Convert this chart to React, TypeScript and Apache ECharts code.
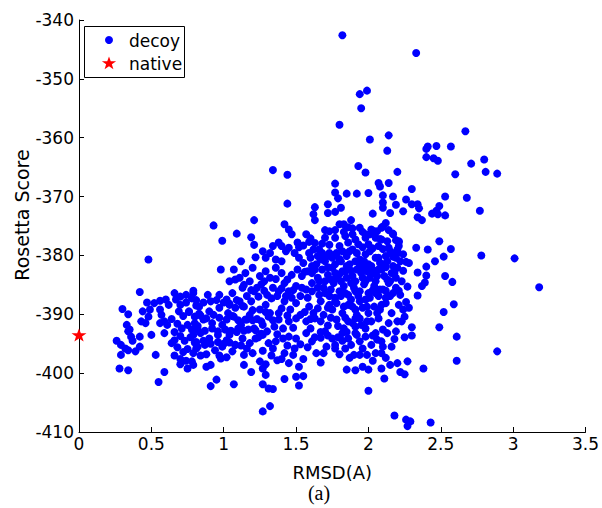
import React, { useEffect, useRef } from "react";
import * as echarts from "echarts";

// ---- data (RMSD, Rosetta score) ----
const leftCluster: [number, number][] = [
  [0.48,-380.7],[0.42,-386.2],[0.66,-386.4],[0.30,-389.1],[0.34,-390.0],[0.47,-388.0],[0.52,-388.1],[0.56,-387.7],[0.60,-387.5],[0.62,-388.4],
  [0.44,-389.5],[0.49,-389.2],[0.48,-390.4],[0.43,-391.2],[0.46,-391.5],[0.56,-389.2],[0.57,-390.1],[0.59,-391.2],[0.61,-391.8],[0.56,-391.5],
  [0.33,-391.8],[0.34,-392.9],[0.36,-393.8],[0.37,-394.5],[0.35,-392.6],[0.42,-393.8],[0.50,-393.5],[0.59,-393.2],[0.26,-394.5],[0.29,-395.2],
  [0.32,-395.8],[0.34,-396.1],[0.39,-396.3],[0.42,-395.5],[0.29,-396.9],[0.53,-396.9],[0.64,-394.9],[0.66,-394.4],[0.28,-399.2],[0.34,-399.5],
  [0.59,-399.8],[0.55,-401.5],[0.70,-398.5],[0.75,-399.2],[0.67,-387.5],[0.70,-388.4],[0.74,-386.7],[0.79,-386.0],
  [0.70,-387.0],[0.74,-388.0],[0.78,-387.3],[0.81,-388.5],[0.69,-389.5],[0.72,-390.3],[0.76,-389.6],[0.80,-390.4],[0.83,-389.9],[0.68,-391.6],
  [0.71,-392.4],[0.75,-391.8],[0.78,-392.6],[0.82,-392.0],[0.70,-393.7],[0.73,-394.5],[0.77,-393.9],[0.80,-394.8],[0.68,-395.6],[0.72,-396.4],
  [0.75,-395.9],[0.79,-396.6],[0.82,-395.5],[0.70,-397.6],[0.74,-397.9],[0.78,-398.0],[0.66,-393.0],[0.64,-390.8],[0.66,-397.0],
  [0.81,-387.6],[0.86,-388.0],[0.91,-387.8],[0.95,-387.6],[1.00,-388.0],[1.04,-388.2],[1.09,-387.6],[1.13,-388.6],
  [0.84,-390.2],[0.88,-390.7],[0.93,-390.1],[0.97,-390.6],[1.02,-390.9],[1.06,-390.3],[1.10,-391.0],[1.16,-390.9],[1.20,-391.0],
  [0.82,-392.6],[0.87,-392.8],[0.92,-392.4],[0.96,-392.9],[1.01,-392.6],[1.05,-392.8],[1.09,-393.0],[1.14,-392.8],[1.22,-392.7],[1.26,-393.3],
  [0.81,-394.7],[0.86,-394.5],[0.91,-395.0],[0.96,-394.7],[1.00,-395.0],[1.04,-394.8],[1.08,-395.2],[1.12,-395.3],
  [0.84,-397.0],[0.88,-396.8],[0.97,-397.0],[1.02,-397.3],
  [0.99,-377.5],[0.98,-382.4],[0.79,-386.4],[0.89,-386.7],[0.97,-386.7],[1.02,-387.5],[0.76,-389.5],[0.83,-388.7],[0.90,-389.5],[0.97,-388.9],
  [1.03,-389.8],[0.80,-391.5],[0.86,-390.9],[0.92,-391.5],[0.99,-391.8],[0.79,-393.5],[0.84,-393.2],[0.90,-394.1],[0.96,-393.5],[1.02,-394.4],
  [0.81,-395.8],[0.87,-395.2],[0.94,-396.1],[0.99,-395.5],[0.79,-398.6],[0.88,-398.9],[0.91,-398.6],[0.98,-397.5],[0.91,-402.2],[0.95,-401.1],
  [0.93,-374.9],[1.09,-376.3],[1.34,-365.5],[1.44,-366.3]
];

const mainCluster: [number, number][] = [
  [1.77,-367.8],[1.77,-369.3],[1.85,-369.5],[1.92,-369.5],[2.00,-369.4],[1.79,-370.3],
  [1.44,-371.2],[1.63,-371.8],[1.72,-371.3],[1.81,-371.9],[1.77,-372.6],[1.72,-372.8],[1.62,-373.0],
  [1.21,-374.0],[1.63,-374.0],[1.42,-374.7],[1.45,-375.6],[1.47,-376.4],[1.80,-374.7],[1.83,-374.7],[1.88,-374.0],[1.73,-375.9],[1.77,-375.7],
  [1.83,-376.0],[1.89,-375.4],[1.94,-375.3],[2.02,-375.6],[2.01,-376.4],[2.09,-375.3],[2.17,-376.3],[1.89,-376.4],[1.98,-376.4],
  [1.19,-376.9],[1.57,-376.4],[1.60,-377.1],[1.59,-377.7],[1.52,-378.6],[1.70,-377.0],[1.77,-377.0],[1.84,-376.7],[1.91,-377.3],[1.98,-377.0],
  [2.05,-377.0],[2.09,-377.3],[2.19,-377.4],[2.21,-377.7],[1.21,-378.2],[1.27,-379.3],[1.34,-378.4],[1.38,-377.8],[1.40,-378.4],[1.45,-378.7],
  [1.51,-377.8],[1.66,-379.0],[1.73,-378.2],[1.80,-378.4],[1.86,-377.8],[1.93,-378.1],[2.00,-378.1],[2.07,-378.4],[2.14,-378.7],[2.21,-378.4],
  [1.22,-380.3],[1.29,-380.4],[1.32,-379.6],[1.36,-380.7],[1.40,-381.0],[1.43,-379.3],[1.49,-379.6],[1.52,-380.4],[1.55,-381.3],[1.59,-379.6],
  [1.62,-379.0],[1.65,-380.1],[1.68,-379.6],[1.70,-381.0],[1.75,-380.4],[1.78,-379.6],[1.82,-379.3],[1.85,-380.1],[1.89,-379.0],[1.92,-379.6],
  [1.94,-380.7],[1.98,-379.8],[2.01,-379.3],[2.05,-380.4],[2.08,-381.3],[2.12,-380.1],[2.15,-379.3],[2.19,-380.4],[2.22,-381.0],[1.12,-381.0],
  [1.07,-382.4],[1.15,-383.0],[1.20,-382.1],[1.25,-383.5],[1.29,-382.7],[1.32,-383.8],[1.36,-382.1],[1.40,-383.0],[1.44,-384.1],[1.47,-383.3],
  [1.51,-382.4],[1.54,-383.5],[1.58,-382.7],[1.61,-381.8],[1.65,-383.8],[1.68,-382.4],[1.72,-383.3],[1.75,-382.1],[1.78,-383.8],[1.82,-382.7],
  [1.85,-381.8],[1.89,-383.5],[1.92,-382.4],[1.96,-383.8],[1.99,-382.7],[2.02,-381.8],[2.06,-383.5],[2.09,-382.4],[2.13,-384.1],[2.16,-383.0],
  [2.20,-382.1],[1.08,-384.1],[1.04,-384.4],
  [1.06,-386.4],[1.13,-385.5],[1.16,-386.9],[1.21,-386.1],[1.26,-384.9],[1.30,-386.7],[1.34,-385.5],[1.37,-386.9],[1.42,-384.7],[1.45,-386.1],
  [1.50,-385.2],[1.53,-386.9],[1.57,-385.8],[1.61,-384.7],[1.66,-386.7],[1.69,-385.5],[1.73,-386.9],[1.76,-384.7],[1.80,-386.1],[1.83,-385.2],
  [1.86,-386.7],[1.90,-385.5],[1.93,-386.9],[1.97,-384.9],[2.00,-386.4],[2.04,-385.2],[2.07,-386.9],[2.10,-385.8],[2.14,-384.7],[2.17,-386.4],
  [2.22,-386.7],[2.34,-386.8],
  [1.04,-388.4],[1.08,-388.9],[1.14,-388.7],[1.19,-387.8],[1.25,-389.2],[1.29,-388.4],[1.32,-389.8],[1.38,-389.8],[1.42,-387.8],[1.46,-389.2],
  [1.50,-388.1],[1.59,-388.7],[1.62,-389.8],[1.67,-387.8],[1.75,-389.2],[1.78,-388.1],[1.82,-389.8],[1.86,-388.4],[1.91,-389.2],[1.94,-387.8],
  [2.00,-389.8],[2.04,-388.7],[2.08,-389.2],[2.12,-388.1],[2.16,-389.8],[2.21,-388.4],[2.24,-389.2],[2.28,-388.9],
  [1.07,-390.4],[1.12,-391.8],[1.15,-390.9],[1.21,-392.4],[1.26,-391.2],[1.31,-390.4],[1.35,-392.1],[1.38,-390.9],[1.45,-391.2],[1.50,-390.7],
  [1.57,-391.2],[1.60,-392.4],[1.63,-390.7],[1.72,-391.9],[1.78,-390.9],[1.83,-392.4],[1.86,-391.2],[1.91,-392.1],[1.94,-390.7],[1.98,-392.4],
  [2.02,-391.2],[2.07,-390.7],[2.10,-392.6],[2.14,-391.5],[2.20,-391.2],[2.30,-392.2],
  [1.04,-393.5],[1.08,-395.2],[1.13,-394.1],[1.18,-394.9],[1.27,-393.5],[1.31,-394.9],[1.36,-394.6],[1.45,-393.8],[1.50,-394.1],[1.53,-395.1],
  [1.61,-394.6],[1.67,-394.0],[1.75,-394.1],[1.77,-395.2],[1.82,-394.5],[1.86,-394.1],[1.91,-393.2],[1.94,-394.6],[1.98,-393.8],[2.02,-395.2],
  [2.06,-394.3],[2.09,-394.6],[2.18,-394.2],[2.25,-393.9],[2.30,-393.6],
  [1.06,-396.3],[1.14,-396.9],[1.20,-396.6],[1.25,-398.0],[1.29,-398.5],[1.34,-395.8],[1.37,-397.8],[1.42,-396.6],[1.45,-398.3],[1.49,-395.8],
  [1.67,-398.2],[1.69,-396.6],[1.77,-395.8],[1.84,-395.8],[1.90,-396.9],[1.94,-396.9],[1.99,-396.9],[2.05,-396.6],[2.09,-396.6],[2.15,-398.6],
  [2.20,-398.3],[2.27,-398.0],
  [1.14,-398.6],[1.19,-399.8],[1.27,-399.2],[1.29,-400.3],[1.42,-401.0],[1.50,-400.6],[1.52,-398.9],[1.55,-400.5],[1.85,-399.4],[1.91,-399.5],
  [1.96,-398.9],[2.00,-399.4],[2.09,-399.2],[2.11,-400.9],[2.22,-399.8],[2.25,-400.2],[2.38,-399.2],
  [1.07,-401.9],[1.27,-401.9],[1.31,-402.6],[1.34,-402.7],[1.52,-402.1],[2.00,-403.0]
];

const coreCluster: [number, number][] = [
  [1.60,-380.4],[1.64,-381.5],[1.67,-380.7],[1.73,-379.6],[1.77,-381.5],[1.81,-381.0],[1.84,-382.7],[1.87,-381.5],[1.91,-381.0],[1.94,-381.8],
  [1.97,-381.0],[2.00,-381.5],[2.03,-383.0],[2.07,-380.4],[2.10,-381.5],[2.13,-381.0],[2.17,-381.8],[2.20,-379.6],[1.61,-383.0],[1.66,-384.4],
  [1.70,-384.4],[1.74,-384.1],[1.77,-383.0],[1.81,-384.4],[1.85,-383.8],[1.88,-384.7],[1.91,-384.4],[1.95,-383.0],[1.98,-384.4],[2.01,-383.8],
  [2.05,-384.4],[2.07,-382.4],[2.11,-383.5],[2.15,-384.4],[2.19,-383.8],[2.23,-384.4],[1.61,-386.1],[1.65,-385.5],[1.70,-386.4],[1.74,-385.8],
  [1.77,-387.2],[1.81,-386.9],[1.84,-386.4],[1.88,-387.5],[1.91,-386.1],[1.94,-386.1],[1.98,-387.5],[2.01,-387.2],[2.05,-386.4],[2.08,-385.8],
  [2.12,-387.2],[2.15,-386.9],[2.19,-385.5],[1.73,-388.4],[1.77,-387.8],[1.83,-388.7],[1.89,-388.7],[1.92,-390.1],[1.96,-388.9],[1.99,-388.7],
  [2.06,-389.8],[2.09,-388.4],[1.91,-390.7],[1.95,-391.8],[1.99,-391.2],[1.92,-393.5],
  [1.11,-383.8],[1.18,-384.4],[1.23,-385.5],[1.28,-384.4],[1.38,-386.1],[1.47,-387.2],[1.54,-385.5],[1.58,-387.2],[1.11,-387.8],[1.18,-390.1],
  [1.27,-391.8],[1.41,-392.4],[1.53,-390.1],[1.10,-392.4],[1.22,-394.1],[1.41,-394.1],[1.57,-393.2],[1.16,-395.8],[1.67,-391.2],[1.70,-392.9],
  [1.82,-393.2],[1.88,-395.2],[2.05,-393.2],[2.10,-395.5],[2.19,-392.9],[2.23,-391.2]
];

const denseFill: [number, number][] = [
  [1.14,-385.0],[1.19,-385.9],[1.24,-387.0],[1.28,-386.0],[1.33,-387.3],[1.36,-384.0],[1.40,-385.6],[1.43,-386.9],[1.48,-385.9],[1.20,-389.3],
  [1.23,-390.8],[1.29,-389.6],[1.34,-391.0],[1.40,-389.0],[1.44,-390.2],[1.48,-392.3],[1.17,-392.6],[1.24,-393.9],[1.30,-392.9],[1.37,-393.4],
  [1.44,-395.3],[1.48,-396.9],[1.40,-397.6],[1.33,-397.0],[1.27,-396.2],
  [1.56,-389.6],[1.60,-390.8],[1.65,-389.0],[1.69,-390.1],[1.72,-388.9],[1.74,-390.6],[1.79,-392.0],[1.67,-393.0],[1.63,-393.9],[1.72,-393.6],
  [1.79,-393.9],[1.85,-393.0],[1.89,-391.5],[1.84,-390.6],[1.71,-395.5],[1.80,-396.8],[1.87,-397.4],[1.96,-395.8],[2.03,-393.6],[2.13,-393.2],
  [2.16,-395.5],[2.12,-397.4],[2.03,-397.9],[1.58,-395.6],[1.64,-396.6],[1.55,-397.6],
  [1.55,-378.3],[1.63,-377.9],[1.68,-378.0],[1.71,-380.2],[1.80,-380.6],[1.87,-379.3],[1.96,-378.6],[2.03,-378.8],[2.10,-378.9],[2.17,-380.2],
  [2.24,-379.8],[1.96,-376.0],[1.86,-375.2],[1.70,-375.7],[2.06,-375.9],[2.13,-377.6],[1.56,-382.8],[1.63,-382.4],[1.72,-382.0],[1.80,-383.2],
  [1.88,-382.6],[1.97,-382.0],[2.04,-382.6],[2.12,-382.0],[2.18,-383.0],[2.24,-382.6],[2.27,-385.3],[2.26,-387.9],[2.25,-390.4],[2.21,-386.0],
  [2.12,-386.0],[2.03,-385.9]
];

const upperPoints: [number, number][] = [
  [1.82,-342.6],[2.33,-345.6],[1.99,-352.0],[1.94,-352.6],[1.95,-355.0],[1.80,-357.8],[2.01,-360.3],[2.14,-359.6],[2.13,-362.2],[2.40,-361.9],
  [2.41,-361.5],[2.47,-361.4],[2.57,-361.5],[2.67,-358.9],[2.40,-363.3],[2.45,-363.5],[2.48,-363.9],[2.71,-364.4],[2.80,-363.7],[1.93,-364.8],
  [1.98,-365.9],[2.20,-365.8],
  [2.07,-367.7],[2.08,-368.3],[2.14,-367.7],[2.30,-368.7],[2.10,-369.8],[2.17,-370.0],[2.26,-370.5],[2.10,-371.0],[2.10,-371.9],[2.19,-371.4],
  [2.30,-371.3],[2.34,-371.3],[2.35,-372.0],[2.24,-372.5],[2.15,-372.8],[2.44,-372.9],[2.47,-372.4],[2.34,-373.5],[2.37,-374.0],[2.03,-372.9],
  [2.12,-374.5],[2.10,-375.1],[2.04,-375.9],[2.14,-375.7],[2.17,-376.4],[2.08,-377.2],[2.21,-377.6],[2.33,-378.7],[2.41,-379.0],[2.16,-379.6],
  [2.20,-379.0],[2.46,-381.0],[2.26,-381.1],[2.28,-381.3],[2.40,-381.9],[2.34,-382.9],[2.40,-383.4],[2.37,-385.2],[2.39,-384.6]
];

const rightPoints: [number, number][] = [
  [2.60,-366.2],[2.81,-365.8],[2.89,-366.1],[2.53,-370.0],[2.68,-370.2],[2.49,-371.6],[2.48,-373.0],[2.53,-373.2],[2.77,-372.4],[2.49,-377.6],
  [2.57,-378.9],[2.52,-380.2],[2.78,-380.0],[3.01,-380.5],[2.53,-383.5],[2.58,-384.5],[3.18,-385.4],[2.59,-388.3],[2.52,-389.6],[2.49,-392.2],
  [2.61,-393.8],[2.89,-396.3],[2.61,-397.9]
];

const lowerPoints: [number, number][] = [
  [1.27,-406.5],[1.32,-405.6],[2.18,-407.2],[2.26,-407.9],[2.29,-408.2],[2.27,-409.0],[2.43,-408.4]
];

const nativePoints: [number, number][] = [[0, -393.5]];

const xRange = { min: 0, max: 3.5, step: 0.5 };
const yRange = { min: -410, max: -340, step: 10 };
const seriesNames = ["decoy", "native"];
const axisNames = { x: "RMSD(A)", y: "Rosetta Score" };
const caption = "(a)";

const decoyPoints = [...leftCluster, ...mainCluster, ...coreCluster, ...denseFill, ...upperPoints, ...rightPoints, ...lowerPoints];

const FONT = "DejaVu Sans";
const STAR = "path://M0,-10 L2.35,-3.24 L9.51,-3.09 L3.8,1.24 L5.88,8.09 L0,4 L-5.88,8.09 L-3.8,1.24 L-9.51,-3.09 L-2.35,-3.24 Z";

function starPolygon(cx: number, cy: number, rx: number, ry: number): number[][] {
  const pts: number[][] = [];
  for (let i = 0; i < 10; i++) {
    const a = -Math.PI / 2 + (i * Math.PI) / 5;
    const k = i % 2 === 0 ? 1 : 0.4;
    pts.push([cx + Math.cos(a) * rx * k, cy + Math.sin(a) * ry * k]);
  }
  return pts;
}

export default function App() {
  const ref = useRef<HTMLDivElement>(null);
  useEffect(() => {
    const chart = echarts.init(ref.current!, null, { renderer: "svg" });
    const axisCommon = {
      axisLine: { show: true, onZero: false, lineStyle: { color: "#000", width: 1 } },
      axisTick: { show: true, inside: true, length: 5, lineStyle: { color: "#000" } },
      splitLine: { show: false },
    };
    chart.setOption({
      animation: false,
      backgroundColor: "#fff",
      grid: { left: 79, right: 11, top: 20, bottom: 76 },
      xAxis: {
        type: "value",
        min: xRange.min,
        max: xRange.max,
        interval: xRange.step,
        name: axisNames.x,
        nameLocation: "middle",
        nameGap: 31,
        nameTextStyle: { color: "#000", fontSize: 18, fontFamily: FONT },
        axisLabel: { color: "#000", fontSize: 17, fontFamily: FONT, margin: 3 },
        ...axisCommon,
      },
      yAxis: {
        type: "value",
        min: yRange.min,
        max: yRange.max,
        interval: yRange.step,
        axisLabel: { color: "#000", fontSize: 17, fontFamily: FONT, margin: 5 },
        ...axisCommon,
      },
      series: [
        {
          type: "scatter",
          name: seriesNames[0],
          data: decoyPoints,
          symbol: "circle",
          symbolSize: 8,
          itemStyle: { color: "#0000ff", opacity: 1 },
          clip: false,
        },
        {
          type: "scatter",
          name: seriesNames[1],
          data: nativePoints,
          symbol: STAR,
          symbolSize: [15, 13],
          itemStyle: { color: "#ff0000", opacity: 1 },
          clip: false,
          z: 5,
        },
      ],
      graphic: [
        {
          type: "rect",
          shape: { x: 84.5, y: 26.5, width: 100, height: 51 },
          style: { fill: "#fff", stroke: "#000", lineWidth: 1 },
          z: 100,
        },
        {
          type: "circle",
          shape: { cx: 109, cy: 40, r: 4 },
          style: { fill: "#0000ff" },
          z: 101,
        },
        {
          type: "polygon",
          shape: { points: starPolygon(109, 63.5, 7.5, 7) },
          style: { fill: "#ff0000" },
          z: 101,
        },
        {
          type: "text",
          x: 129,
          y: 41,
          style: { text: seriesNames[0], fill: "#000", font: `17px '${FONT}'`, textAlign: "left", textVerticalAlign: "middle" },
          z: 101,
        },
        {
          type: "text",
          x: 129,
          y: 64,
          style: { text: seriesNames[1], fill: "#000", font: `17px '${FONT}'`, textAlign: "left", textVerticalAlign: "middle" },
          z: 101,
        },
        {
          type: "text",
          x: 22,
          y: 215,
          rotation: Math.PI / 2,
          style: { text: axisNames.y, fill: "#000", font: `19px '${FONT}'`, textAlign: "center", textVerticalAlign: "middle" },
        },
        {
          type: "text",
          x: 319,
          y: 493,
          style: { text: caption, fill: "#000", font: "20px 'Liberation Serif'", textAlign: "center", textVerticalAlign: "middle" },
        },
      ],
    });
    return () => chart.dispose();
  }, []);
  return (
    <div
      ref={ref}
      style={{ position: "fixed", left: 0, top: 0, width: 602, height: 508, background: "#fff" }}
    />
  );
}
